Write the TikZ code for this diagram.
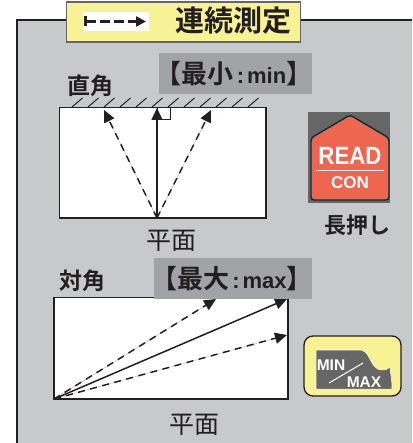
\documentclass[tikz,border=0pt]{standalone}
\usepackage{fontspec}
\setmainfont{Liberation Sans}
\newfontfamily\cjk{Noto Sans CJK JP}[BoldFont={Noto Sans CJK JP Bold}]
\newcommand{\latn}[1]{{\rmfamily\bfseries\fontsize{22}{22}\selectfont #1}}
\usetikzlibrary{arrows.meta}
\definecolor{panelgray}{HTML}{C8C9CB}
\definecolor{labelgray}{HTML}{A2A3A6}
\definecolor{titleyellow}{HTML}{F7F294}
\definecolor{inkdark}{HTML}{231F20}
\definecolor{iconred}{HTML}{EE6650}
\definecolor{icongray}{HTML}{666666}
\tikzset{
  ray/.style={draw=inkdark,fill=inkdark,line width=1.5pt,-{Triangle[length=12pt,width=11pt]}},
  dray/.style={ray,dash pattern=on 7pt off 5.5pt},
  plane/.style={draw=inkdark,line width=1.3pt,fill=white,outer sep=0pt,inner sep=0pt},
  lab/.style={font=\cjk\bfseries\fontsize{23}{23}\selectfont,text=inkdark,inner sep=0pt},
  planelab/.style={font=\cjk\fontsize{25}{25}\selectfont,text=inkdark,inner sep=0pt},
  tag/.style={fill=labelgray,inner sep=0pt,outer sep=0pt,font=\cjk\bfseries\fontsize{26}{26}\selectfont,text=inkdark},
  hatch/.style={draw=inkdark,line width=1pt},
}
\begin{document}
\begin{tikzpicture}[x=1pt,y=-1pt]
\useasboundingbox (0,0) rectangle (412,443);
% panel
\fill[panelgray] (17,20) rectangle (412,443);
\draw[inkdark,line width=2.4pt] (17,443) -- (17,20) -- (412,20);
% title
\node[draw=icongray,line width=1.3pt,fill=titleyellow,minimum width=234pt,minimum height=40pt,inner sep=0pt,outer sep=0pt,anchor=north west] (title) at (66.5,2) {};
\node[fill=white,minimum width=66pt,minimum height=19pt,inner sep=0pt,outer sep=0pt,anchor=north west] (arrowbox) at (83,12) {};
\coordinate (mstart) at (86,21.5);
\coordinate (mend) at (146,21.5);
\draw[inkdark,line width=2.4pt] (85.5,16.5) -- (85.5,26.5);
\draw[inkdark,line width=2.4pt,dash pattern=on 10pt off 4pt,-{Triangle[length=10pt,width=10pt]}] (mstart) -- (mend);
\node[font=\cjk\bfseries\fontsize{29}{29}\selectfont,text=inkdark,inner sep=0pt] (titletext) at (233,21) {連続測定};
% upper
\node[plane,minimum width=206.5pt,minimum height=110.7pt,anchor=north west] (rectA) at (59.5,107.3) {};
\foreach \i in {0,...,11}{
  \draw[hatch] ({72+\i*16},107) -- ++(10.5,-9);
}
\draw[inkdark,line width=1pt] (157,107.5) rectangle (170,120);
\coordinate (srcA) at (157,218);
\coordinate (tipA1) at (104,110);
\coordinate (tipA2) at (157,108);
\coordinate (tipA3) at (211,110);
\draw[dray] (srcA) -- (tipA1);
\draw[ray] (srcA) -- (tipA2);
\draw[dray] (srcA) -- (tipA3);
\node[lab] (zhijiao) at (90.5,86) {直角};
\node[tag,minimum width=153pt,minimum height=41pt] (tagmin) at (235.5,73.5) {};
\node[font=\cjk\bfseries\fontsize{26}{26}\selectfont,text=inkdark,inner sep=0pt] (tagmintxt) at (234,73.5) {【最小\kern3pt\latn{:}\kern3pt\latn{min}】};
\node[planelab] (planeA) at (171,241) {平面};
% READ icon
\fill[icongray] (308,112) rectangle (390,203);
\draw[line width=1.4pt,draw=black!60!teal,fill=iconred,rounded corners=3pt] (350,115) -- (389,138) -- (389,200) -- (311,200) -- (311,138) -- cycle;
\draw[white,line width=1pt] (316,171) -- (384,171);
\node[font=\bfseries\fontsize{25}{25}\selectfont,text=white,inner sep=0pt] (readtxt) at (350,155.5) {\scalebox{0.89}[1]{READ}};
\node[font=\bfseries\fontsize{17}{17}\selectfont,text=white,inner sep=0pt] (contxt) at (350,183) {CON};
\node[font=\cjk\bfseries\fontsize{22}{22}\selectfont,text=inkdark,inner sep=0pt] (longpress) at (357.5,225) {長押し};
% lower
\node[plane,minimum width=234pt,minimum height=101.7pt,anchor=north west] (rectB) at (54,297.3) {};
\coordinate (srcB) at (54,399);
\coordinate (tipB1) at (216,299);
\coordinate (tipB2) at (287,299);
\coordinate (tipB3) at (287,335);
\draw[dray] (srcB) -- (tipB1);
\draw[ray] (srcB) -- (tipB2);
\draw[dray] (srcB) -- (tipB3);
\node[tag,minimum width=158pt,minimum height=41pt] (tagmax) at (233,278.5) {};
\node[font=\cjk\bfseries\fontsize{26}{26}\selectfont,text=inkdark,inner sep=0pt] (tagmaxtxt) at (232,278.5) {【最大\kern3pt\latn{:}\kern3pt\latn{max}】};
\node[lab] (duijiao) at (82.5,281) {対角};
\node[planelab] (planeB) at (194,424.5) {平面};
% MIN/MAX icon
\draw[draw=inkdark,line width=1.3pt,fill=titleyellow,rounded corners=9pt] (304,336) rectangle (401,396);
\fill[icongray,draw=white,line width=.5pt] (316,350) -- (361,350) .. controls (367,351) and (369,358) .. (372,363) .. controls (376,370) and (383,373) .. (390,367) .. controls (390,372) and (392,378) .. (392,389) -- (316,389) -- cycle;
\draw[white,line width=1pt] (329,383) -- (363,363);
\node[font=\bfseries\fontsize{15.5}{15.5}\selectfont,text=white,inner sep=0pt] (mintxt) at (331,365) {MIN};
\node[font=\bfseries\fontsize{15.5}{15.5}\selectfont,text=white,inner sep=0pt] (maxtxt) at (364,382) {MAX};
\end{tikzpicture}
\end{document}
